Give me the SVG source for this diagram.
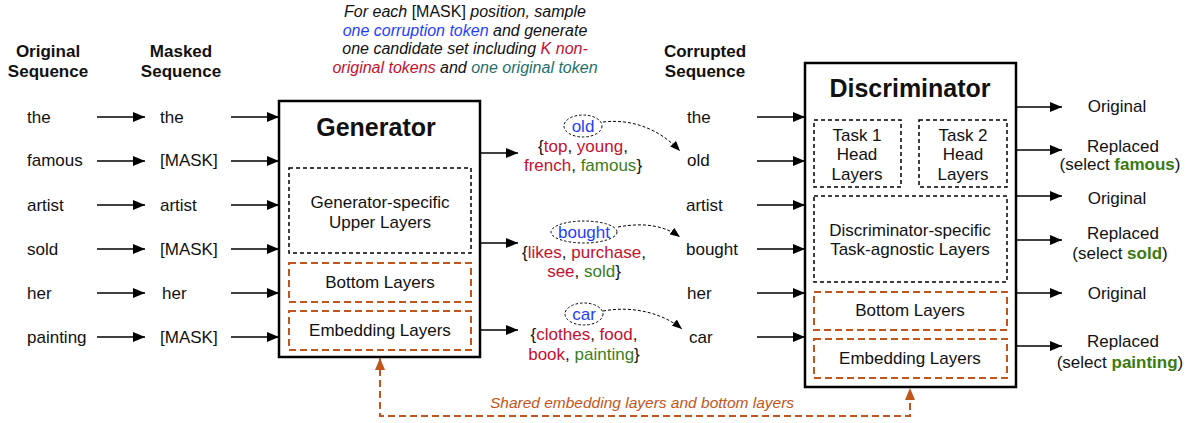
<svg xmlns="http://www.w3.org/2000/svg" width="1189" height="423" viewBox="0 0 1189 423">
<defs>
<marker id="ah" markerUnits="userSpaceOnUse" markerWidth="12" markerHeight="10" refX="12" refY="5" orient="auto"><path d="M0,0 L12,5 L0,10 z" fill="#000"/></marker>
<marker id="ahs" markerUnits="userSpaceOnUse" markerWidth="10" markerHeight="8" refX="10" refY="4" orient="auto"><path d="M0,0 L10,4 L0,8 z" fill="#000"/></marker>
<marker id="aho" markerUnits="userSpaceOnUse" markerWidth="12" markerHeight="10" refX="12" refY="5" orient="auto-start-reverse"><path d="M0,0 L12,5 L0,10 z" fill="#c0561b"/></marker>
<style>
text{font-family:"Liberation Sans",Arial,sans-serif;fill:#111}
.t{font-size:17px}
.l{font-size:17px;text-anchor:middle}
.h{font-size:17px;font-weight:bold;text-anchor:middle}
.title{font-size:25px;font-weight:bold;text-anchor:middle}
.it{font-size:16px;font-style:italic;text-anchor:middle}
.c{font-size:17px;text-anchor:middle}
.blue{fill:#1f3fff}
.red{fill:#c4102e}
.green{fill:#3a7d1e}
.teal{fill:#1d6f6a}
.gb{fill:#3a7a10;font-weight:bold}
.box{fill:#fff;stroke:#000;stroke-width:2.5}
.dbox{fill:none;stroke:#000;stroke-width:1.5;stroke-dasharray:4 3}
.obox{fill:none;stroke:#c0561b;stroke-width:2;stroke-dasharray:7 4}
.arr{stroke:#000;stroke-width:1.6;fill:none;marker-end:url(#ah)}
.darr{stroke:#000;stroke-width:1;fill:none;stroke-dasharray:3 2;marker-end:url(#ahs)}
.ell{fill:none;stroke:#000;stroke-width:1;stroke-dasharray:2.5 2}
</style>
</defs>
<rect width="1189" height="423" fill="#fff"/>

<g id="caption">
<text class="it" x="465" y="17">For each <tspan font-style="normal">[MASK]</tspan> position, sample</text>
<text class="it" x="465" y="36"><tspan class="blue">one corruption token</tspan> and generate</text>
<text class="it" x="465" y="54">one candidate set including <tspan class="red">K non-</tspan></text>
<text class="it" x="465" y="73"><tspan class="red">original tokens</tspan> and <tspan class="teal">one original token</tspan></text>
</g>

<g id="original-sequence">
<text class="h" x="48" y="57">Original</text>
<text class="h" x="48" y="77">Sequence</text>
<text class="t" x="27" y="123">the</text>
<text class="t" x="27" y="166">famous</text>
<text class="t" x="27" y="211">artist</text>
<text class="t" x="27" y="255">sold</text>
<text class="t" x="27" y="299">her</text>
<text class="t" x="27" y="343">painting</text>
</g>

<g id="masked-sequence">
<text class="h" x="181" y="57">Masked</text>
<text class="h" x="181" y="77">Sequence</text>
<text class="t" x="160" y="123">the</text>
<text class="t" x="160" y="166">[MASK]</text>
<text class="t" x="160" y="211">artist</text>
<text class="t" x="160" y="255">[MASK]</text>
<text class="t" x="162" y="299">her</text>
<text class="t" x="160" y="343">[MASK]</text>
</g>

<g id="generator">
<rect class="box" x="279" y="101" width="201" height="256"/>
<text class="title" x="376" y="136">Generator</text>
<rect class="dbox" x="289" y="168" width="182" height="85"/>
<text class="l" x="380" y="208">Generator-specific</text>
<text class="l" x="380" y="228">Upper Layers</text>
<rect class="obox" x="289" y="263" width="182" height="39"/>
<text class="l" x="380" y="288">Bottom Layers</text>
<rect class="obox" x="289" y="311" width="182" height="39"/>
<text class="l" x="380" y="336">Embedding Layers</text>
</g>

<g id="candidates">
<ellipse class="ell" cx="583" cy="126" rx="19" ry="11"/>
<text class="c blue" x="583" y="132">old</text>
<text class="c" x="583" y="152">{<tspan class="red">top</tspan>, <tspan class="red">young</tspan>,</text>
<text class="c" x="583" y="171"><tspan class="red">french</tspan>, <tspan class="green">famous</tspan>}</text>
<ellipse class="ell" cx="584" cy="232" rx="33" ry="11"/>
<text class="c blue" x="584" y="238">bought</text>
<text class="c" x="584" y="258">{<tspan class="red">likes</tspan>, <tspan class="red">purchase</tspan>,</text>
<text class="c" x="584" y="277"><tspan class="red">see</tspan>, <tspan class="green">sold</tspan>}</text>
<ellipse class="ell" cx="584" cy="314" rx="19" ry="11"/>
<text class="c blue" x="584" y="320">car</text>
<text class="c" x="584" y="340">{<tspan class="red">clothes</tspan>, <tspan class="red">food</tspan>,</text>
<text class="c" x="584" y="360"><tspan class="red">book</tspan>, <tspan class="green">painting</tspan>}</text>
</g>

<g id="corrupted-sequence">
<text class="h" x="705" y="57">Corrupted</text>
<text class="h" x="705" y="77">Sequence</text>
<text class="t" x="687" y="123">the</text>
<text class="t" x="687" y="166">old</text>
<text class="t" x="686" y="211">artist</text>
<text class="t" x="686" y="255">bought</text>
<text class="t" x="687" y="299">her</text>
<text class="t" x="689" y="343">car</text>
</g>

<g id="discriminator">
<rect class="box" x="805" y="63" width="211" height="324"/>
<text class="title" x="910" y="97">Discriminator</text>
<rect class="dbox" x="814" y="120" width="87" height="67"/>
<text class="l" x="857" y="141">Task 1</text>
<text class="l" x="857" y="160">Head</text>
<text class="l" x="857" y="180">Layers</text>
<rect class="dbox" x="919" y="120" width="88" height="67"/>
<text class="l" x="963" y="141">Task 2</text>
<text class="l" x="963" y="160">Head</text>
<text class="l" x="963" y="180">Layers</text>
<rect class="dbox" x="814" y="196" width="193" height="86"/>
<text class="l" x="910" y="236">Discriminator-specific</text>
<text class="l" x="910" y="255">Task-agnostic Layers</text>
<rect class="obox" x="814" y="292" width="193" height="38"/>
<text class="l" x="910" y="316">Bottom Layers</text>
<rect class="obox" x="814" y="339" width="193" height="39"/>
<text class="l" x="910" y="364">Embedding Layers</text>
</g>

<g id="outputs">
<text class="c" x="1117" y="112">Original</text>
<text class="c" x="1123" y="152">Replaced</text>
<text class="c" x="1120" y="170">(select <tspan class="gb">famous</tspan>)</text>
<text class="c" x="1117" y="204">Original</text>
<text class="c" x="1123" y="239">Replaced</text>
<text class="c" x="1120" y="259">(select <tspan class="gb">sold</tspan>)</text>
<text class="c" x="1117" y="299">Original</text>
<text class="c" x="1123" y="347">Replaced</text>
<text class="c" x="1120" y="368">(select <tspan class="gb">painting</tspan>)</text>
</g>

<g id="connectors">
<path class="arr" d="M97,117 H145"/>
<path class="arr" d="M97,161 H145"/>
<path class="arr" d="M97,205 H145"/>
<path class="arr" d="M97,249 H145"/>
<path class="arr" d="M97,293 H145"/>
<path class="arr" d="M97,337 H145"/>
<path class="arr" d="M231,117 H279"/>
<path class="arr" d="M231,161 H279"/>
<path class="arr" d="M231,205 H279"/>
<path class="arr" d="M231,249 H279"/>
<path class="arr" d="M231,293 H279"/>
<path class="arr" d="M231,337 H279"/>
<path class="arr" d="M480,153 H518"/>
<path class="arr" d="M480,243 H518"/>
<path class="arr" d="M480,330 H518"/>
<path class="darr" d="M603,122 C638,118 664,134 680,151"/>
<path class="darr" d="M618,227 C645,222 665,226 680,237"/>
<path class="darr" d="M603,311 C636,305 665,315 682,329"/>
<path class="arr" d="M757,117 H805"/>
<path class="arr" d="M757,161 H805"/>
<path class="arr" d="M757,205 H805"/>
<path class="arr" d="M757,249 H805"/>
<path class="arr" d="M757,293 H805"/>
<path class="arr" d="M757,337 H805"/>
<path class="arr" d="M1016,107 H1062"/>
<path class="arr" d="M1016,150 H1062"/>
<path class="arr" d="M1016,196 H1062"/>
<path class="arr" d="M1016,240 H1062"/>
<path class="arr" d="M1016,293 H1062"/>
<path class="arr" d="M1016,346 H1062"/>
<path d="M380,358 V416 H910 V388" fill="none" stroke="#c0561b" stroke-width="2" stroke-dasharray="7 4" marker-start="url(#aho)" marker-end="url(#aho)"/>
<text x="642" y="408" font-size="15.5" font-style="italic" text-anchor="middle" style="fill:#c0561b">Shared embedding layers and bottom layers</text>
</g>
</svg>
